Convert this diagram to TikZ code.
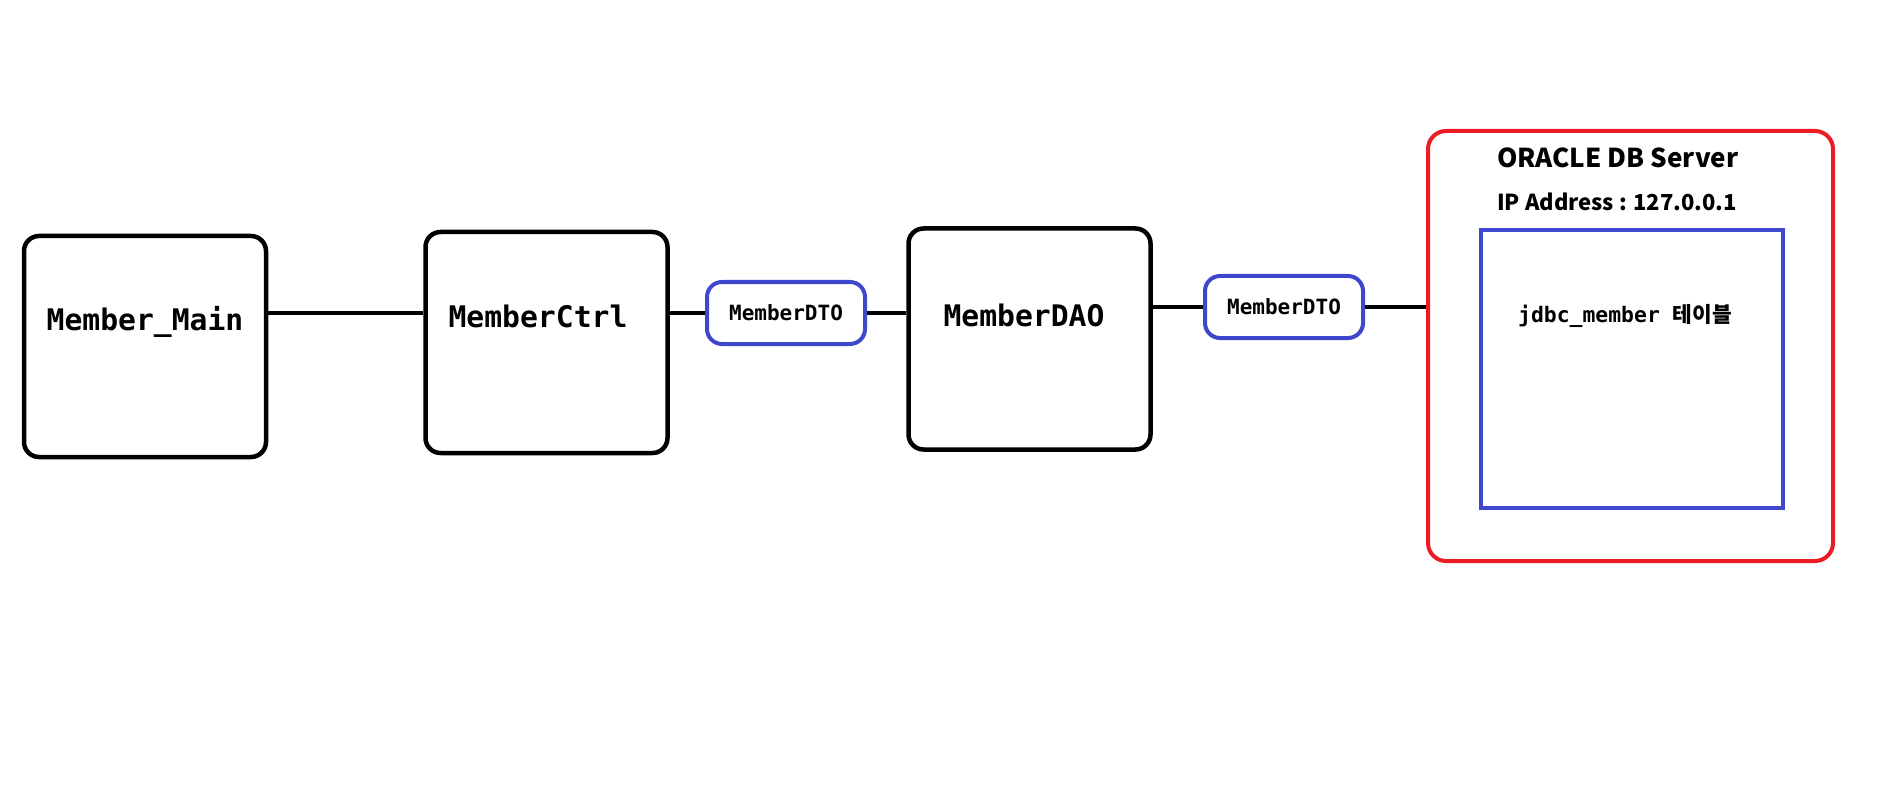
\documentclass[tikz,border=0pt]{standalone}
\usepackage{fontspec}
\setmonofont{DejaVu Sans Mono}
\newfontfamily\krfont{Noto Sans CJK KR}
\definecolor{paintred}{HTML}{ED1C24}
\definecolor{paintblue}{HTML}{3F48CC}
\tikzset{
  layer/.style={draw, line width=4.5pt, rounded corners=15pt,
    minimum width=242pt, minimum height=221pt},
  layerlbl/.style={anchor=base, inner sep=0pt,
    font=\fontsize{29.7}{30}\selectfont\ttfamily\bfseries},
  dto/.style={draw=paintblue, line width=4pt, rounded corners=15pt,
    minimum width=158pt, minimum height=62pt, inner sep=0pt,
    text height=15.5pt, text depth=0pt,
    font=\fontsize{21}{21}\selectfont\ttfamily\bfseries},
  srvlbl/.style={anchor=base west, inner sep=0pt, font=\krfont\bfseries},
  link/.style={line width=4.5pt},
}
\begin{document}
\begin{tikzpicture}[x=1pt,y=-1pt]
    \useasboundingbox (0,0) rectangle (1881,786);
    \node[layer] (main) at (145,346.5) {};
    \node[layerlbl] (mainlbl) at (145,330) {Member\_Main};
    \node[layer] (ctrl) at (546.5,342.5) {};
    \node[layerlbl] (ctrllbl) at (538,327) {MemberCtrl};
    \node[layer] (dao) at (1029.5,339) {};
    \node[layerlbl] (daolbl) at (1024,326) {MemberDAO};
    \node[dto] (dto1) at (786,313) {MemberDTO};
    \node[dto] (dto2) at (1284,307) {MemberDTO};
    \node[draw=paintred, line width=4pt, rounded corners=18pt,
      minimum width=405pt, minimum height=430pt] (server) at (1630.5,346) {};
    \node[srvlbl, font=\fontsize{26}{26}\selectfont\krfont\bfseries] (srvname) at (1497,168) {ORACLE DB Server};
    \node[srvlbl, font=\fontsize{22}{22}\selectfont\krfont\bfseries] (srvip) at (1497,211) {IP Address : 127.0.0.1};
    \node[draw=paintblue, line width=4pt,
      minimum width=302pt, minimum height=278pt] (table) at (1632,369) {};
    \node[anchor=base, inner sep=0pt] (tbllbl) at (1625,322)
      {\fontsize{21.4}{22}\selectfont\ttfamily\bfseries jdbc\_member \krfont 테이블};
    \draw[link] (main.east |- dto1) -- (ctrl.west |- dto1);
    \draw[link] (ctrl.east |- dto1) -- (dto1.west);
    \draw[link] (dto1.east) -- (dao.west |- dto1);
    \draw[link] (dao.east |- dto2) -- (dto2.west);
    \draw[link] (dto2.east) -- (server.west |- dto2);
  \end{tikzpicture}
\end{document}
